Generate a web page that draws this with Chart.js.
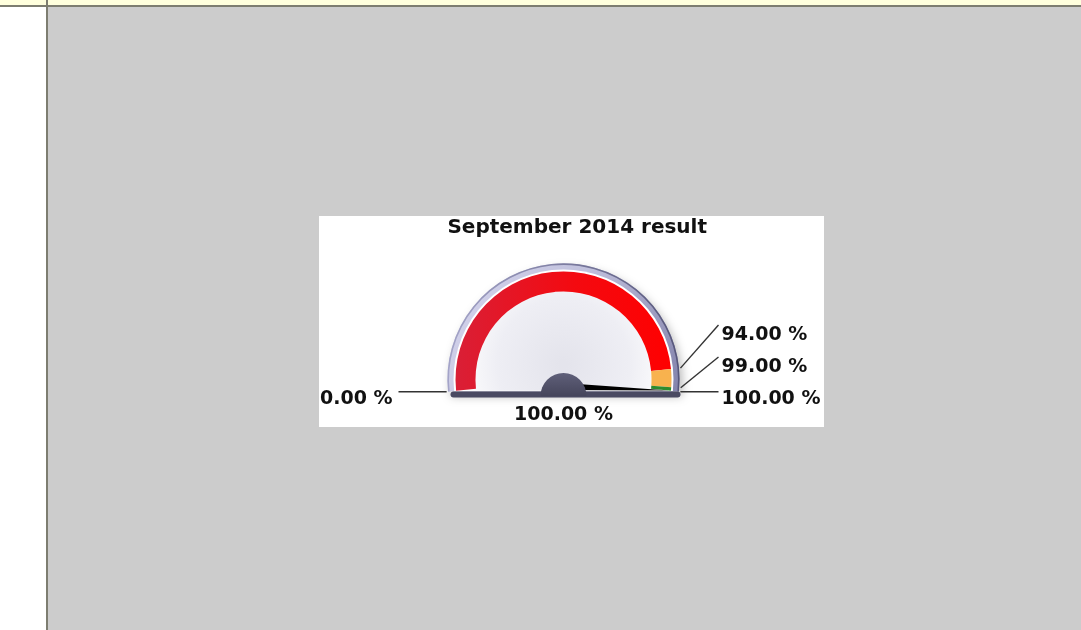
<!DOCTYPE html>
<html><head><meta charset="utf-8">
<script src="https://cdn.jsdelivr.net/npm/chart.js@4/dist/chart.umd.min.js"></script>
<style>
html,body{margin:0;padding:0;width:1081px;height:630px;overflow:hidden;background:#cccccc;}
#topbar{position:absolute;left:0;top:0;width:1081px;height:5px;background:#ffffdd;border-bottom:2px solid #7d7d70;}
#leftpane{position:absolute;left:0;top:7px;width:46px;height:623px;background:#ffffff;}
#vline{position:absolute;left:46px;top:0;width:2px;height:630px;background:#7d7d70;}
#box{position:absolute;left:319px;top:216px;width:505px;height:211px;background:#ffffff;}
canvas{display:block;}
</style></head>
<body>
<div id="topbar"></div><div id="leftpane"></div><div id="vline"></div>
<div id="box"><canvas id="c" width="505" height="211"></canvas></div>
<script>
// ---- data ----
const chartTitle = 'September 2014 result';
const bandNames = ['Red', 'Amber', 'Green'];
const bandStarts = [0, 94, 99];
const bandEnds = [94, 99, 100];
const bandColors = ['#ff0000', '#f8b24e', '#2e8b2e'];
const tickValues = [0, 94, 99, 100];
const needleValue = 100;
const scaleMin = 0;
const scaleMax = 100;
const fmt = v => v.toFixed(2) + ' %';

const bandSizes = bandStarts.map((s, i) => bandEnds[i] - s);

const labelFont = 'bold 19px "DejaVu Sans"';

const gaugePlugin = {
  id: 'gaugeDecor',
  beforeDatasetsDraw(chart) {
    const ctx = chart.ctx;
    const meta = chart.getDatasetMeta(0);
    const a0 = meta.data[0], aN = meta.data[meta.data.length - 1];
    const cx = a0.x, cy = a0.y, R = a0.outerRadius;
    const s = a0.startAngle, e = aN.endAngle;
    const Rb = R + 8;
    ctx.save();
    ctx.shadowColor = 'rgba(0,0,0,0.28)';
    ctx.shadowBlur = 10; ctx.shadowOffsetX = 3; ctx.shadowOffsetY = 5;
    ctx.beginPath(); ctx.arc(cx, cy, Rb, s, e); ctx.closePath();
    const g = ctx.createLinearGradient(cx - Rb, cy - Rb, cx + Rb, cy);
    g.addColorStop(0, '#d6d6ee'); g.addColorStop(0.5, '#c0c0dc'); g.addColorStop(1, '#8686ae');
    ctx.fillStyle = g; ctx.fill();
    ctx.restore();
    ctx.save();
    const gs = ctx.createLinearGradient(cx - Rb, 0, cx + Rb, 0);
    gs.addColorStop(0, '#a4a4c8'); gs.addColorStop(1, '#56567a');
    ctx.beginPath(); ctx.arc(cx, cy, Rb - 0.7, s, e);
    ctx.strokeStyle = gs; ctx.lineWidth = 1.6; ctx.stroke();
    ctx.beginPath(); ctx.arc(cx, cy, R + 2, s, e); ctx.closePath();
    ctx.fillStyle = '#ffffff'; ctx.fill();
    const rg = ctx.createRadialGradient(cx, cy - 15, 4, cx, cy - 15, R);
    rg.addColorStop(0, '#e4e4ec'); rg.addColorStop(0.6, '#eeeef4'); rg.addColorStop(1, '#ffffff');
    ctx.beginPath(); ctx.arc(cx, cy, R, s, e); ctx.closePath();
    ctx.fillStyle = rg; ctx.fill();
    ctx.restore();
  },
  afterDatasetsDraw(chart) {
    const meta = chart.getDatasetMeta(0);
    const a0 = meta.data[0], aN = meta.data[meta.data.length - 1];
    const cx = a0.x, cy = a0.y, R = a0.outerRadius;
    const s = a0.startAngle, e = aN.endAngle;
    const Rb = R + 8;
    const ctx = chart.ctx;
    const angOf = v => s + (v - scaleMin) / (scaleMax - scaleMin) * (e - s);
    ctx.save();
    // base bar
    ctx.fillStyle = '#4a4a62';
    ctx.beginPath();
    ctx.roundRect(cx - Rb + 3, cy + 12, 2 * Rb - 2, 6, 3);
    ctx.fill();
    // needle
    const na = angOf(needleValue);
    const px = cx, py = cy + 7;
    const tx = cx + (R - 2) * Math.cos(na), ty = cy + (R - 2) * Math.sin(na);
    const dx = tx - px, dy = ty - py, L = Math.hypot(dx, dy);
    const nx = -dy / L, ny = dx / L;
    ctx.fillStyle = '#000000';
    ctx.beginPath();
    ctx.moveTo(px + nx * 3.5, py + ny * 3.5);
    ctx.lineTo(tx, ty);
    ctx.lineTo(px - nx * 3.5, py - ny * 3.5);
    ctx.closePath(); ctx.fill();
    // hub
    const hg = ctx.createLinearGradient(0, cy - 7, 0, cy + 16);
    hg.addColorStop(0, '#60607a'); hg.addColorStop(1, '#46465c');
    ctx.fillStyle = hg;
    ctx.beginPath(); ctx.arc(cx, cy + 16.5, 23, Math.PI, 2 * Math.PI); ctx.closePath(); ctx.fill();
    // tick labels with leader lines
    ctx.font = labelFont;
    ctx.fillStyle = '#111111';
    ctx.strokeStyle = '#333333';
    ctx.lineWidth = 1.4;
    const right = tickValues.filter(v => Math.cos(angOf(v)) >= 0).sort((a, b) => b - a);
    tickValues.forEach(v => {
      const a = angOf(v);
      const sx = cx + (Rb + 1.5) * Math.cos(a), sy = cy + (Rb + 1.5) * Math.sin(a);
      if (Math.cos(a) < 0) {
        ctx.beginPath(); ctx.moveTo(sx, sy); ctx.lineTo(cx - Rb - 49, sy); ctx.stroke();
        ctx.textAlign = 'right'; ctx.textBaseline = 'alphabetic';
        ctx.fillText(fmt(v), cx - Rb - 55, cy + 24.5);
      } else {
        const row = right.indexOf(v);
        const base = cy + 24.5 - row * 32;
        const ey = row === 0 ? sy : base - 15;
        ctx.beginPath(); ctx.moveTo(sx, sy); ctx.lineTo(cx + Rb + 39, ey); ctx.stroke();
        ctx.textAlign = 'left'; ctx.textBaseline = 'alphabetic';
        ctx.fillText(fmt(v), cx + Rb + 42, base);
      }
    });
    // value label
    ctx.textAlign = 'center';
    ctx.fillText(fmt(needleValue), cx, cy + 40.5);
    ctx.restore();
  }
};

new Chart(document.getElementById('c'), {
  type: 'doughnut',
  data: {
    labels: bandNames,
    datasets: [{
      data: bandSizes,
      backgroundColor: (ctx) => {
        if (ctx.dataIndex !== 0) return bandColors[ctx.dataIndex];
        const ca = ctx.chart.chartArea;
        if (!ca) return bandColors[0];
        const g = ctx.chart.ctx.createLinearGradient(ca.left + 30, 0, ca.right - 30, 0);
        g.addColorStop(0, '#d82038'); g.addColorStop(0.55, '#f40a10'); g.addColorStop(1, '#ff0000');
        return g;
      },
      borderWidth: 0
    }]
  },
  options: {
    responsive: false,
    animation: false,
    rotation: -96,
    circumference: 192,
    radius: 108,
    cutout: '81.5%',
    layout: { padding: { left: 101, right: 117, top: 0, bottom: 35.8 } },
    plugins: {
      legend: { display: false },
      tooltip: { enabled: false },
      title: {
        display: true, text: chartTitle, align: 'end', color: '#111111',
        font: { family: 'DejaVu Sans', size: 20, weight: 'bold' },
        padding: { top: 0, bottom: 31 }
      }
    }
  },
  plugins: [gaugePlugin]
});
</script>
</body></html>
